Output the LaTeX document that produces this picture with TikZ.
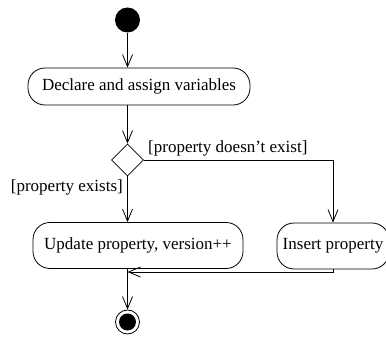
\documentclass[tikz,border=0pt]{standalone}
\usepackage{fontspec}
\setmainfont{Liberation Serif}
\usetikzlibrary{arrows.meta,shapes.geometric}
\begin{document}
\begin{tikzpicture}[x=1pt,y=-1pt,
  font=\fontsize{17}{20}\selectfont,
  act/.style={draw,line width=0.8pt,rounded corners=17pt,inner sep=0pt},
  flow/.style={draw,line width=0.8pt,-{Straight Barb[length=12pt,width=10pt,line width=0.8pt]}},
  line/.style={draw,line width=0.8pt},
  guard/.style={inner sep=0pt}
]
\useasboundingbox (0,0) rectangle (386,337);
\node[circle,fill,minimum size=25pt,inner sep=0pt] (start) at (127.5,20) {};
\node[act,minimum width=222pt,minimum height=37pt] (decl) at (139,86.5) {Declare and assign variables};
\node[diamond,draw,line width=0.8pt,minimum width=32pt,minimum height=32pt,inner sep=0pt] (dec) at (127.5,160) {};
\node[act,minimum width=210pt,minimum height=46pt] (upd) at (138,245.5) {Update property, version++};
\node[act,minimum width=112pt,minimum height=46pt] (ins) at (333,246) {Insert property};
\node[circle,draw,line width=0.8pt,minimum size=24pt,inner sep=0pt] (end) at (127.5,322) {};
\fill (end.center) circle (8.5pt);
\node[guard,anchor=base west] (g1) at (148,153) {[property doesn’t exist]};
\node[guard,anchor=base east] (g2) at (123,191) {[property exists]};
\coordinate (m) at (127.5,272);
\draw[flow] (start) -- (start |- decl.north);
\draw[flow] (decl.south -| dec.north) -- (dec.north);
\draw[flow] (dec.south) -- (dec.south |- upd.north);
\draw[flow] (dec.east) -| (ins.north);
\draw[line] (upd.south -| end.north) -- (m);
\draw[flow] (m) -- (end.north);
\draw[flow] (ins.south) |- (m);
\end{tikzpicture}
\end{document}
